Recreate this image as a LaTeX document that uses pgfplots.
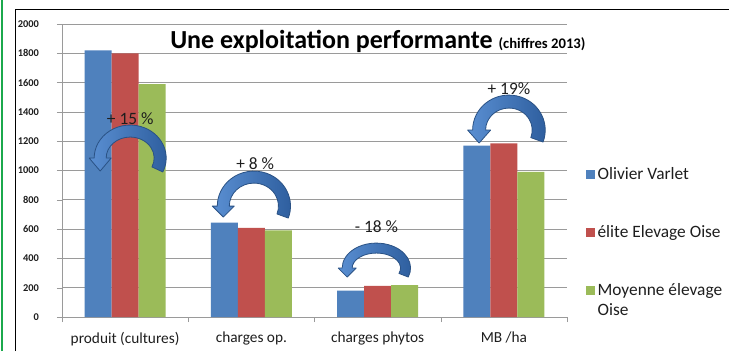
\documentclass[border=0pt]{standalone}
\usepackage{pgfplots}
\pgfplotsset{compat=1.18}
\usepackage{fontspec}
\setmainfont{Carlito}
\definecolor{cblue}{HTML}{4F81BD}
\definecolor{cred}{HTML}{C0504D}
\definecolor{cgreen}{HTML}{9BBB59}
\definecolor{arrowlight}{HTML}{5A8FD2}
\definecolor{arrowdark}{HTML}{2C5C9C}
\definecolor{arrowedge}{HTML}{2A5285}
\definecolor{gridgray}{HTML}{9A9A9A}
\definecolor{framegreen}{HTML}{1BA94C}
\definecolor{txt}{HTML}{1E1E1E}
\pgfplotsset{sqlegend/.style={legend image code/.code={\fill[##1,draw=none] (0pt,-3.2pt) rectangle (6.4pt,3.2pt);}}}
% #1 centre, #2 a, #3 b, #4 half width, #5 wing, #6 head length, #7 start angle (all in px)
\newcommand{\bigarrow}[7]{%
  \begin{scope}[shift={(#1)}, x=0.75pt, y=0.75pt]
    \pgfmathsetmacro\ao{#2+#4}\pgfmathsetmacro\bo{#3+#4}%
    \pgfmathsetmacro\ai{#2-#4}\pgfmathsetmacro\bi{#3-#4}%
    \pgfmathsetmacro\aop{0.75*\ao}\pgfmathsetmacro\bop{0.75*\bo}%
    \pgfmathsetmacro\aip{0.75*\ai}\pgfmathsetmacro\bip{0.75*\bi}%
    \path[left color=arrowlight, right color=arrowdark, draw=arrowedge, line width=0.6pt, line join=round]
      ({\ao*cos(#7)},{\bo*sin(#7)}) arc[start angle=#7, end angle=180, x radius=\aop pt, y radius=\bop pt]
      -- ++(-#5,0) -- (-#2,-#6) -- ({-\ai+#5},0) -- (-\ai,0)
      arc[start angle=180, end angle=#7, x radius=\aip pt, y radius=\bip pt] -- cycle;
  \end{scope}}
\begin{document}
\begin{tikzpicture}
\path[use as bounding box] (0,0) rectangle (546.75pt,263.25pt);
\fill[white] (0,0) rectangle (546.75pt,263.25pt);
\draw[framegreen, line width=1.6pt] (1.2pt,0) -- (1.2pt,263.25pt);
\draw[black, line width=1pt] (11.6pt,0) -- (11.6pt,255.9pt) -- (560pt,255.9pt);
\begin{axis}[
  at={(46.5pt,25.5pt)}, anchor=south west,
  scale only axis, width=378.75pt, height=219.75pt,
  ybar=0pt, bar width=20.25pt,
  xmin=-0.5, xmax=3.5, ymin=0, ymax=2000,
  ytick={0,200,...,2000},
  xtick={0,1,2,3},
  xticklabels={produit (cultures), charges op., charges phytos, MB /ha},
  minor xtick={-0.5,0.5,1.5,2.5,3.5},
  major x tick style={draw=none},
  minor x tick style={gridgray},
  ytick style={gridgray},
  tick align=outside,
  major tick length=3.75pt, minor tick length=3.75pt,
  axis lines*=left,
  axis line style={gridgray, line width=0.6pt},
  ymajorgrids, grid style={gridgray, line width=0.6pt},
  /pgf/number format/assume math mode=true,
  /pgf/number format/1000 sep={},
  yticklabel style={font=\fontsize{7.8}{8}\selectfont\bfseries, text=txt, xshift=-10pt},
  xticklabel style={font=\fontsize{11.5}{12}\selectfont, text=txt, yshift=-4pt},
  legend style={at={(1.03,0.53)}, anchor=north west, draw=none, fill=none,
    font=\fontsize{13}{15}\selectfont, text=txt, row sep=29pt},
  legend cell align=left,
]
\addplot[fill=cblue, draw=none, sqlegend] coordinates {(0,1820) (1,645) (2,180) (3,1170)};
\addlegendentry{Olivier Varlet}
\addplot[fill=cred, draw=none, sqlegend] coordinates {(0,1800) (1,608) (2,212) (3,1185)};
\addlegendentry{élite Elevage Oise}
\addplot[fill=cgreen, draw=none, sqlegend] coordinates {(0,1590) (1,592) (2,218) (3,990)};
\addlegendentry{\vtop{\hbox{Moyenne élevage}\hbox{Oise}}}
\coordinate (A1) at (axis cs:0.04,1085);
\coordinate (A2) at (axis cs:1.02,757);
\coordinate (A3) at (axis cs:1.99,334);
\coordinate (A4) at (axis cs:3.04,1276);
\coordinate (T1) at (axis cs:0.04,1357);
\coordinate (T2) at (axis cs:1.03,1050);
\coordinate (T3) at (axis cs:1.99,614);
\coordinate (T4) at (axis cs:3.04,1562);
\end{axis}
\bigarrow{A1}{30}{27}{6}{5}{13}{-25}
\bigarrow{A2}{30.6}{29}{6}{5}{11}{-20}
\bigarrow{A3}{29.2}{20}{5}{4}{9}{-21}
\bigarrow{A4}{29.8}{28.5}{6.5}{5}{13}{-20}
\begin{scope}[every node/.style={font=\fontsize{13}{14}\selectfont, text=txt, inner sep=0pt}]
\node at (T1) {+ 15 \%};
\node at (T2) {+ 8 \%};
\node at (T3) {- 18 \%};
\node at (T4) {+ 19\%};
\end{scope}
\node[anchor=base west, inner sep=0pt, text=black] at (127.5pt,227pt)
  {\fontsize{19.5}{22}\selectfont\bfseries Une exploitation performante \fontsize{11}{13}\selectfont(chiffres 2013)};
\end{tikzpicture}
\end{document}
